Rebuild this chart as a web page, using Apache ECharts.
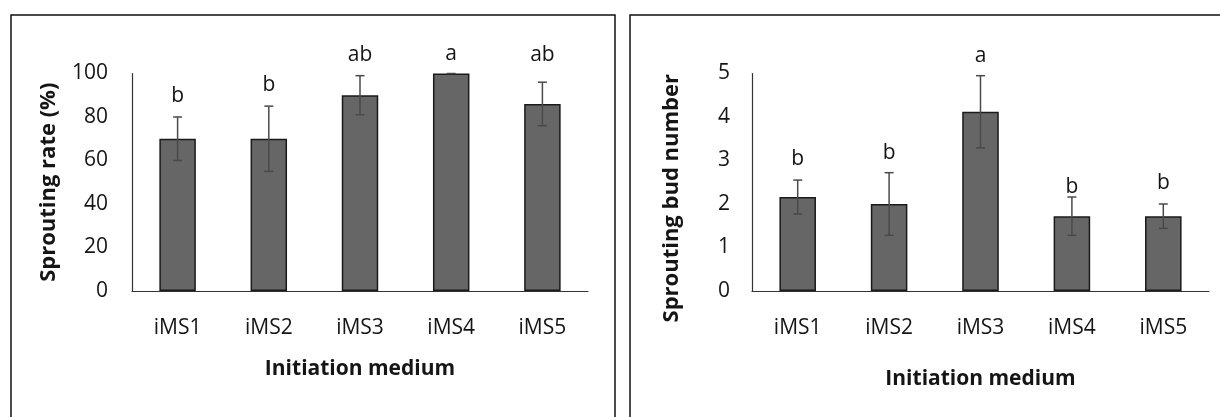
<!DOCTYPE html>
<html>
<head>
<meta charset="utf-8">
<script src="https://cdn.jsdelivr.net/npm/echarts@6/dist/echarts.min.js"></script>
<style>
html,body{margin:0;padding:0;background:#fff;}
#chart{width:1220px;height:417px;}
</style>
</head>
<body>
<div id="chart"></div>
<script>
// ---- data ----
const categories = ['iMS1', 'iMS2', 'iMS3', 'iMS4', 'iMS5'];
const rateMean = [70, 70, 90, 100, 86];
const rateErr = [10, 15, 9, 0, 10];
const rateLetters = ['b', 'b', 'ab', 'a', 'ab'];
const rateLetterPos = [89.7, 94.7, 108.5, 109.1, 108.5];
const budMean = [2.16, 2.0, 4.12, 1.72, 1.72];
const budErr = [0.39, 0.72, 0.83, 0.44, 0.28];
const budLetters = ['b', 'b', 'a', 'b', 'b'];
const budLetterPos = [3.03, 3.18, 5.41, 2.40, 2.49];
const rateTicks = [0, 20, 40, 60, 80, 100];
const budTicks = [0, 1, 2, 3, 4, 5];

const FONT = '"Open Sans", sans-serif';
const TXT = '#151515';

function errRender(means, errs) {
  return function (params, api) {
    const i = api.value(0);
    const hi = api.coord([i, means[i] + errs[i]]);
    const lo = api.coord([i, means[i] - errs[i]]);
    const cap = 4.5;
    const st = { stroke: '#4a4a4a', lineWidth: 1.5 };
    if (errs[i] === 0) {
      return { type: 'line', shape: { x1: hi[0] - cap, y1: hi[1], x2: hi[0] + cap, y2: hi[1] }, style: st };
    }
    return {
      type: 'group',
      children: [
        { type: 'line', shape: { x1: hi[0], y1: hi[1], x2: lo[0], y2: lo[1] }, style: st },
        { type: 'line', shape: { x1: hi[0] - cap, y1: hi[1], x2: hi[0] + cap, y2: hi[1] }, style: st },
        { type: 'line', shape: { x1: lo[0] - cap, y1: lo[1], x2: lo[0] + cap, y2: lo[1] }, style: st }
      ]
    };
  };
}
function letterRender(letters, pos) {
  return function (params, api) {
    const i = api.value(0);
    const p = api.coord([i, pos[i]]);
    return {
      type: 'text',
      x: p[0], y: p[1],
      style: { text: letters[i], fontFamily: FONT, fontSize: 21, fill: TXT, align: 'center', verticalAlign: 'middle' }
    };
  };
}

function xAx(gridIndex, gap) {
  return {
    type: 'category', gridIndex: gridIndex, data: categories,
    axisLine: { show: true, lineStyle: { color: '#333', width: 1.2 } },
    axisTick: { show: false },
    axisLabel: { margin: 27, fontFamily: FONT, fontSize: 21, color: TXT },
    name: 'Initiation medium', nameLocation: 'middle', nameGap: gap,
    nameTextStyle: { fontFamily: FONT, fontSize: 21, fontWeight: 'bold', color: TXT }
  };
}
function yAx(gridIndex, max, interval, name, gap, margin, pad) {
  return {
    type: 'value', gridIndex: gridIndex, min: 0, max: max, interval: interval,
    axisLine: { show: true, lineStyle: { color: '#333', width: 1.2 } },
    axisTick: { show: false }, splitLine: { show: false },
    axisLabel: { margin: margin, fontFamily: FONT, fontSize: 21, color: TXT },
    name: name, nameLocation: 'middle', nameGap: gap, nameRotate: 90,
    nameTextStyle: { fontFamily: FONT, fontSize: 22, fontWeight: 'bold', color: TXT, padding: pad }
  };
}

const barStyle = { color: '#666666', borderColor: '#1a1a1a', borderWidth: 1.5 };
const idx = categories.map((c, i) => [i]);

const option = {
  animation: false,
  backgroundColor: '#fff',
  graphic: [
    { type: 'rect', shape: { x: 11, y: 15, width: 604, height: 430 }, style: { fill: 'none', stroke: '#111', lineWidth: 1.5 } },
    { type: 'rect', shape: { x: 630, y: 15, width: 610, height: 430 }, style: { fill: 'none', stroke: '#111', lineWidth: 1.5 } }
  ],
  grid: [
    { left: 132, width: 456, top: 73.5, height: 217.5 },
    { left: 752, width: 457, top: 73.5, height: 217.5 }
  ],
  xAxis: [xAx(0, 68), xAx(1, 78)],
  yAxis: [
    yAx(0, rateTicks[rateTicks.length - 1], rateTicks[1] - rateTicks[0], 'Sprouting rate (%)', 72, 24, [0, 0, 0, 0]),
    yAx(1, budTicks[budTicks.length - 1], budTicks[1] - budTicks[0], 'Sprouting bud number', 69, 22, [0, 32, 0, 0])
  ],
  series: [
    { type: 'bar', xAxisIndex: 0, yAxisIndex: 0, data: rateMean, barWidth: '40%', itemStyle: barStyle },
    { type: 'custom', xAxisIndex: 0, yAxisIndex: 0, data: idx, renderItem: errRender(rateMean, rateErr), z: 3 },
    { type: 'custom', xAxisIndex: 0, yAxisIndex: 0, data: idx, renderItem: letterRender(rateLetters, rateLetterPos), clip: false, z: 4 },
    { type: 'bar', xAxisIndex: 1, yAxisIndex: 1, data: budMean, barWidth: '40%', itemStyle: barStyle },
    { type: 'custom', xAxisIndex: 1, yAxisIndex: 1, data: idx, renderItem: errRender(budMean, budErr), z: 3 },
    { type: 'custom', xAxisIndex: 1, yAxisIndex: 1, data: idx, renderItem: letterRender(budLetters, budLetterPos), clip: false, z: 4 }
  ]
};
const chart = echarts.init(document.getElementById('chart'), null, { renderer: 'canvas' });
chart.setOption(option);
</script>
</body>
</html>
